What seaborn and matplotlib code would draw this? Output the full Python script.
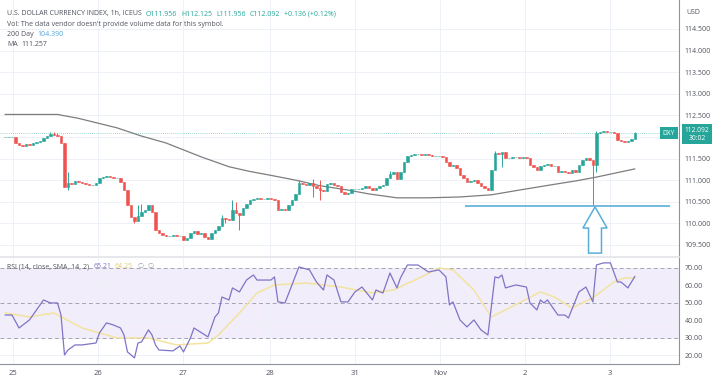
import matplotlib
matplotlib.use("Agg")
import numpy as np
import pandas as pd
import matplotlib.pyplot as plt
import seaborn as sns
from matplotlib.patches import FancyArrow

# hourly closes, DXY Oct 25 - Nov 3
closes = [
    112.00, 112.00, 112.00, 111.86, 111.82, 111.79, 111.84, 111.82, 111.86, 111.88,
    111.91, 111.98, 112.02, 112.07, 112.05, 112.02, 111.86, 110.84, 110.94, 110.91,
    110.98, 110.96, 110.94, 110.91, 110.89, 110.89, 110.94, 111.05, 111.07, 111.10,
    111.07, 111.05, 111.05, 110.96, 110.77, 110.43, 110.15, 110.06, 110.17, 110.26,
    110.31, 110.43, 110.26, 109.85, 109.78, 109.73, 109.71, 109.71, 109.73, 109.71,
    109.71, 109.62, 109.66, 109.78, 109.82, 109.76, 109.78, 109.69, 109.64, 109.78,
    109.85, 109.94, 110.13, 110.10, 110.08, 110.31, 110.24, 110.19, 110.36, 110.45,
    110.54, 110.57, 110.59, 110.57, 110.57, 110.59, 110.57, 110.54, 110.31, 110.33,
    110.31, 110.43, 110.54, 110.68, 110.94, 110.91, 110.89, 110.94, 110.87, 110.82,
    110.77, 110.75, 110.91, 110.94, 110.89, 110.87, 110.73, 110.68, 110.70, 110.80,
    110.80, 110.80, 110.82, 110.87, 110.82, 110.77, 110.82, 110.87, 110.89, 111.05,
    111.14, 111.19, 111.03, 111.19, 111.42, 111.56, 111.58, 111.61, 111.61, 111.58,
    111.61, 111.58, 111.56, 111.56, 111.56, 111.54, 111.42, 111.33, 111.35, 111.28,
    111.12, 111.05, 110.96, 110.98, 111.00, 110.94, 110.87, 110.82, 110.77, 111.24,
    111.63, 111.61, 111.65, 111.51, 111.51, 111.54, 111.54, 111.51, 111.54, 111.51,
    111.35, 111.31, 111.24, 111.33, 111.35, 111.38, 111.33, 111.33, 111.19, 111.21,
    111.19, 111.17, 111.24, 111.19, 111.35, 111.47, 111.51, 111.47, 111.35, 112.09,
    112.12, 112.14, 112.12, 112.12, 112.09, 111.93, 111.91, 111.88, 111.91, 111.96,
    112.092,
]
first_open = 112.00

# candles whose wicks reach past the body
wick_high = {13: 112.12, 14: 112.12, 15: 112.10, 18: 111.19, 38: 110.43, 39: 110.45,
             62: 110.20, 65: 110.54, 66: 110.50, 84: 111.00, 88: 111.03, 90: 111.00,
             110: 111.22, 140: 111.68, 169: 112.14, 180: 112.125}
wick_low = {18: 110.77, 37: 110.01, 63: 110.00, 67: 109.85, 88: 110.61, 90: 110.54,
            142: 111.31, 168: 110.43, 169: 111.19}

# moving average (gray)
ma_idx = [0, 15, 21, 32, 39, 46, 56, 64, 70, 76, 83, 90, 98, 104, 112, 121, 130, 139,
          147, 156, 163, 169, 180]
ma_vals = [112.52, 112.52, 112.43, 112.21, 112.02, 111.86, 111.54, 111.31, 111.20,
           111.11, 111.00, 110.87, 110.77, 110.68, 110.59, 110.59, 110.61, 110.66,
           110.77, 110.89, 110.98, 111.07, 111.26]

# RSI (14) and its SMA
rsi_idx = [0, 2, 4, 7, 11, 13, 15, 16, 17, 18, 20, 22, 26, 27, 29, 31, 33, 34, 35, 37,
           38, 39, 41, 42, 43, 44, 48, 50, 51, 53, 54, 58, 60, 61, 62, 64, 65, 67, 69, 71,
           72, 76, 77, 78, 80, 84, 87, 89, 91, 92, 94, 96, 98, 100, 102, 105, 106, 108, 110, 112,
           113, 115, 118, 121, 124, 126, 127, 128, 130, 132, 134, 136, 138, 140, 141, 142, 143, 146, 149, 150,
           152, 153, 154, 155, 158, 160, 161, 164, 166, 168, 169, 171, 173, 175, 176, 178, 180]
rsi_vals = [43.1, 43.1, 35.7, 40.3, 51.7, 50.0, 50.0, 43.1, 20.3, 23.1, 26.0, 26.0, 27.1, 32.9, 38.6, 37.4, 35.7, 31.7, 22.0, 18.6,
            27.1, 27.7, 34.6, 31.7, 26.0, 23.1, 22.6, 25.4, 22.0, 30.0, 35.7, 30.6, 42.0, 44.3, 53.4, 51.7, 58.6, 56.3, 63.1, 66.0,
            63.1, 63.1, 64.9, 50.6, 50.0, 70.6, 68.9, 62.0, 57.4, 66.0, 63.1, 50.6, 50.6, 56.3, 59.1, 51.7, 57.4, 55.7, 67.1, 58.6,
            64.3, 71.7, 71.7, 67.7, 68.9, 64.9, 48.9, 50.6, 40.3, 36.3, 40.3, 34.6, 31.7, 64.9, 64.3, 66.0, 58.6, 60.3, 59.1, 50.0,
            46.0, 51.7, 50.0, 51.7, 43.1, 43.1, 41.4, 56.3, 59.1, 50.6, 71.7, 72.9, 72.9, 62.0, 62.0, 58.6, 65.21]
sma_idx = [0, 7, 14, 22, 32, 41, 49, 58, 61, 67, 72, 77, 86, 96, 105, 111, 119, 124, 128,
           134, 139, 143, 153, 157, 162, 168, 174, 177, 180]
sma_vals = [44.3, 42.0, 44.3, 35.7, 30.0, 30.0, 26.0, 27.1, 31.7, 44.3, 55.7, 60.3, 61.4,
            59.1, 55.7, 57.4, 64.9, 70.0, 68.9, 57.4, 42.0, 46.0, 56.3, 53.4, 47.1, 52.9,
            62.0, 64.3, 64.25]

day_pos = [2.3, 26.6, 50.9, 75.7, 100, 124.3, 148.6, 172.9]
day_labels = ["25", "26", "27", "28", "31", "Nov", "2", "3"]
price_ticks = [109.5, 110.0, 110.5, 111.0, 111.5, 112.0, 112.5, 113.0, 113.5, 114.0, 114.5]
rsi_ticks = [20, 30, 40, 50, 60, 70]
last_price = 112.092
support = 110.40

UP, DOWN = "#26a69a", "#ef5350"
TXT = "#50535e"

df = pd.DataFrame({"close": closes})
df["open"] = [first_open] + closes[:-1]
df["high"] = df[["open", "close"]].max(axis=1)
df["low"] = df[["open", "close"]].min(axis=1)
for k, v in wick_high.items():
    df.loc[k, "high"] = v
for k, v in wick_low.items():
    df.loc[k, "low"] = v
df["color"] = np.where(df["close"] >= df["open"], UP, DOWN)

sns.set_theme(style="white")
plt.rcParams["font.family"] = ["Open Sans", "DejaVu Sans"]

W, H = 718, 383
fig = plt.figure(figsize=(W / 100, H / 100), dpi=100)
ax = fig.add_axes([0, 126 / H, 679 / W, 257 / H])
ax2 = fig.add_axes([0, 19 / H, 679 / W, 106 / H], sharex=ax)

# ---- price pane ----
ax.vlines(df.index, df["low"], df["high"], colors=df["color"], lw=0.7, zorder=3)
ax.bar(df.index, df["close"] - df["open"], bottom=df["open"], width=0.65,
       color=df["color"], edgecolor=df["color"], linewidth=0.4, zorder=4)
sns.lineplot(x=ma_idx, y=ma_vals, ax=ax, color="#7d7d7d", lw=0.9, zorder=2)
ax.axhline(last_price, color=UP, ls=(0, (1, 1.5)), lw=0.6, alpha=0.6, zorder=1)
ax.hlines(support, 131.4, 190, color="#5aaed8", lw=1.2, zorder=5)
ax.add_patch(FancyArrow(168.6, 109.31, 0, support - 0.02 - 109.31, width=3.7,
                        head_width=6.9, head_length=0.49, length_includes_head=True,
                        fc="white", ec="#5aaed8", lw=1.1, zorder=5))

ax.set_xlim(-1.43, 192.6)
ax.set_ylim(109.22, 115.17)
ax.yaxis.tick_right()
# 112.000 sits under the last-price tag, as in the screenshot
ax.set_yticks(price_ticks, ["" if t == 112.0 else f"{t:.3f}" for t in price_ticks])
ax.set_xticks(day_pos)
ax.tick_params(axis="x", labelbottom=False, length=0)
ax.tick_params(axis="y", length=0, pad=4, labelsize=5, labelcolor=TXT)
ax.grid(True, color="#eef1f7", lw=0.7)
for s in ["top", "left"]:
    ax.spines[s].set_visible(False)
ax.spines["right"].set_color("#8f929c")
ax.spines["right"].set_linewidth(0.8)
ax.spines["bottom"].set_color("#e3e5ea")
ax.set_xlabel("")

# ---- RSI pane ----
ax2.axhspan(30, 70, color="#f1edfa", lw=0, zorder=0)
for lvl in [70, 50, 30]:
    ax2.axhline(lvl, color="#a6a3b6", ls=(0, (4, 3)), lw=0.7, zorder=1)
sns.lineplot(x=sma_idx, y=sma_vals, ax=ax2, color="#f3e3a0", lw=1.1, zorder=2)
sns.lineplot(x=rsi_idx, y=rsi_vals, ax=ax2, color="#7f74c6", lw=0.9, zorder=3)
ax2.set_ylim(15.1, 75.7)
ax2.yaxis.tick_right()
ax2.set_yticks(rsi_ticks, [f"{t:.2f}" for t in rsi_ticks])
ax2.set_xticks(day_pos, day_labels)
ax2.tick_params(axis="x", length=0, pad=4, labelsize=5.5, labelcolor=TXT)
ax2.tick_params(axis="y", length=0, pad=4, labelsize=5, labelcolor=TXT)
ax2.grid(True, color="#eef1f7", lw=0.7)
ax2.spines["top"].set_visible(False)
ax2.spines["left"].set_visible(False)
for s in ["right", "bottom"]:
    ax2.spines[s].set_color("#8f929c")
    ax2.spines[s].set_linewidth(0.8)
ax2.set_xlabel("")

renderer = fig.canvas.get_renderer()


def line(x, y, parts, size=5.0, gap=4):
    # lay out coloured pieces of one legend line left to right
    for s, color in parts:
        t = fig.text(x / W, 1 - y / H, s, color=color, fontsize=size, va="center")
        x = t.get_window_extent(renderer).x1 + gap


line(7, 14, [("U.S. DOLLAR CURRENCY INDEX, 1h, ICEUS", TXT), ("O111.956", UP),
             ("H112.125", UP), ("L111.956", UP), ("C112.092", UP),
             ("+0.136 (+0.12%)", UP)])
line(7, 24, [("Vol: The data vendor doesn't provide volume data for this symbol.", TXT)])
line(7, 34, [("200 Day", TXT), ("104.390", "#4da3d9")])
line(7, 44, [("MA", TXT), ("111.257", TXT)])
line(7, 267, [("RSI (14, close, SMA, 14, 2)", TXT), ("65.21", "#7f74c6"),
              ("64.25", "#e3cc70"), ("\u2205", "#9a9aa6"), ("\u2205", "#9a9aa6")])
fig.text(686 / W, 1 - 12 / H, "USD", color=TXT, fontsize=5, va="center")

# symbol / last price tags
fig.text(669 / W, 1 - 133 / H, "DXY", color="white", fontsize=4.8, ha="center", va="center",
         bbox=dict(boxstyle="square,pad=0.35", fc=UP, ec="none"))
fig.text(697 / W, 1 - 134 / H, "112.092\n30:02", color="white", fontsize=4.8, ha="center",
         va="center", linespacing=1.2,
         bbox=dict(boxstyle="square,pad=0.35", fc=UP, ec="none"))

fig.savefig("out.png", dpi=100)
